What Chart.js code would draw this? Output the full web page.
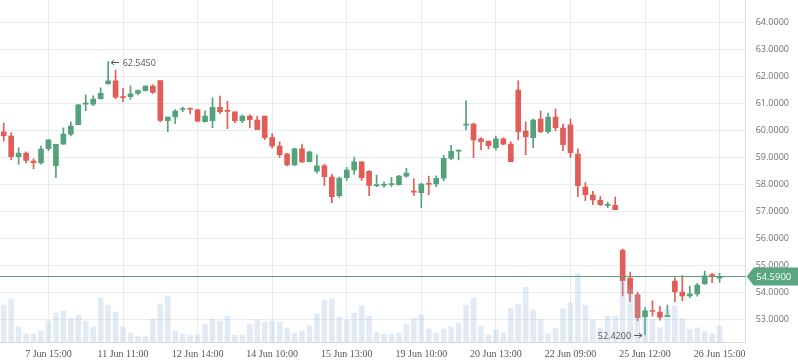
<!DOCTYPE html>
<html>
<head>
<meta charset="utf-8">
<script src="https://cdn.jsdelivr.net/npm/chart.js@4/dist/chart.umd.min.js"></script>
<style>
  html, body { margin: 0; padding: 0; background: #fff; }
  #wrap { width: 798px; height: 363px; }
</style>
</head>
<body>
<div id="wrap"><canvas id="chart_root"></canvas></div>
<script>
// price data (hourly candles)
const opens = [59.94, 59.79, 59.02, 59.16, 58.86, 58.79, 59.32, 58.69, 59.49, 59.86,
  60.21, 60.97, 60.97, 61.17, 61.72, 61.83, 61.22, 61.25, 61.37, 61.47,
  61.64, 61.84, 60.36, 60.50, 60.77, 60.80, 60.76, 60.32, 60.36, 60.85,
  60.71, 60.68, 60.36, 60.53, 60.38, 60.53, 59.73, 59.42, 59.12, 58.72,
  59.31, 58.84, 58.49, 58.68, 58.27, 57.58, 58.25, 58.53, 58.83, 58.48,
  57.95, 57.96, 57.99, 57.99, 58.30, 57.73, 57.69, 58.02, 58.01, 58.23,
  58.96, 59.23, 60.19, 60.23, 59.68, 59.60, 59.36, 59.68, 59.49, 61.49,
  59.97, 59.73, 60.42, 59.95, 60.49, 60.08, 60.20, 59.12, 57.90, 57.60,
  57.41, 57.22, 57.22, 55.55, 54.53, 53.92, 53.10, 53.31, 53.27, 53.10,
  54.42, 54.01, 53.87, 53.94, 54.31, 54.66, 54.52];
const highs = [60.27, 59.92, 59.35, 59.20, 58.94, 59.42, 59.67, 59.49, 60.09, 60.31,
  60.96, 61.31, 61.28, 61.57, 62.545, 62.23, 61.55, 61.65, 61.50, 61.65,
  61.68, 61.84, 60.49, 60.77, 60.86, 60.83, 60.79, 60.72, 61.20, 61.27,
  61.07, 60.68, 60.57, 60.57, 60.52, 60.53, 59.88, 59.57, 59.15, 59.34,
  59.49, 59.23, 59.09, 58.74, 58.37, 58.27, 58.62, 59.01, 58.83, 58.51,
  58.34, 58.09, 58.26, 58.33, 58.59, 58.20, 58.04, 58.30, 58.31, 59.07,
  59.44, 59.27, 61.09, 60.27, 59.73, 59.60, 59.79, 59.72, 59.57, 61.83,
  60.31, 60.42, 60.72, 60.64, 60.79, 60.23, 60.42, 59.31, 58.07, 57.74,
  57.55, 57.34, 57.53, 55.60, 54.75, 54.01, 53.43, 53.68, 53.48, 53.53,
  54.54, 54.62, 54.23, 54.33, 54.79, 54.70, 54.70];
const lows = [59.60, 58.90, 58.74, 58.79, 58.58, 58.75, 59.25, 58.25, 59.48, 59.79,
  60.21, 60.73, 60.91, 61.15, 61.72, 61.17, 61.05, 61.14, 61.31, 61.46,
  61.37, 60.32, 59.95, 60.25, 60.69, 60.62, 60.32, 60.30, 60.10, 60.62,
  60.06, 60.28, 60.28, 60.10, 60.02, 59.65, 59.34, 59.00, 58.68, 58.69,
  58.80, 58.84, 58.41, 57.95, 57.32, 57.51, 58.14, 58.37, 58.14, 57.58,
  57.91, 57.88, 57.91, 57.97, 58.26, 57.59, 57.13, 57.62, 57.91, 58.13,
  58.91, 58.90, 60.01, 58.99, 59.27, 59.31, 59.27, 59.47, 58.84, 59.64,
  59.09, 59.36, 59.91, 59.88, 59.99, 59.25, 58.99, 57.54, 57.39, 57.25,
  57.21, 57.13, 57.06, 53.87, 53.65, 52.95, 52.42, 53.12, 52.97, 53.10,
  53.65, 53.69, 53.80, 53.86, 54.30, 54.36, 54.37];
const closes = [59.80, 59.02, 59.16, 58.88, 58.80, 59.30, 59.64, 59.48, 59.86, 60.16,
  60.94, 60.99, 61.16, 61.37, 61.83, 61.23, 61.21, 61.35, 61.47, 61.64,
  61.40, 60.37, 60.49, 60.71, 60.78, 60.78, 60.34, 60.53, 60.85, 60.69,
  60.70, 60.36, 60.53, 60.39, 60.02, 59.73, 59.42, 59.10, 58.72, 59.31,
  58.83, 59.20, 58.68, 58.28, 57.54, 58.23, 58.53, 58.83, 58.25, 57.96,
  57.97, 57.98, 58.01, 58.30, 58.42, 57.71, 58.01, 58.00, 58.22, 58.96,
  59.22, 59.25, 60.21, 59.64, 59.58, 59.43, 59.68, 59.49, 58.84, 59.95,
  59.76, 60.38, 59.95, 60.49, 60.10, 59.47, 59.17, 57.95, 57.62, 57.42,
  57.25, 57.24, 57.06, 54.43, 53.95, 53.06, 53.31, 53.29, 53.08, 53.15,
  54.01, 53.87, 53.94, 54.27, 54.61, 54.59, 54.59];
const volumes = [373, 433, 153, 83, 83, 113, 213, 293, 313, 243,
  273, 213, 153, 443, 373, 303, 153, 93, 63, 63,
  233, 383, 463, 113, 83, 73, 73, 183, 233, 213,
  263, 73, 73, 183, 223, 203, 213, 203, 143, 93,
  113, 163, 283, 423, 433, 253, 223, 293, 363, 263,
  103, 83, 83, 93, 183, 243, 273, 133, 93, 133,
  153, 193, 373, 443, 163, 73, 123, 93, 343, 383,
  553, 323, 233, 83, 143, 333, 393, 683, 373, 223,
  143, 263, 263, 620, 530, 480, 250, 230, 145, 330,
  363, 235, 133, 145, 105, 85, 163];

// x axis: 100 slots, the last ones empty
const slotCount = 100;
const tickSlots = [6, 16, 26, 36, 46, 56, 66, 76, 86, 96];
const tickLabels = ['7 Jun 15:00', '11 Jun 11:00', '12 Jun 14:00', '14 Jun 10:00', '15 Jun 13:00',
  '19 Jun 10:00', '20 Jun 13:00', '22 Jun 09:00', '25 Jun 12:00', '26 Jun 15:00'];

const UP = '#53a27c';
const DOWN = '#e15d57';
const colors = closes.map((c, i) => (c >= opens[i] ? UP : DOWN));

// last price line, tag and high / low marks
const overlay = {
  id: 'overlay',
  afterDatasetsDraw(chart) {
    const { ctx, chartArea, scales: { x, y } } = chart;
    const last = closes[closes.length - 1];
    const py = Math.round(y.getPixelForValue(last)) + 0.5;
    ctx.save();
    ctx.strokeStyle = '#5a9f7c';
    ctx.lineWidth = 1;
    ctx.beginPath();
    ctx.moveTo(chartArea.left, py);
    ctx.lineTo(chartArea.right, py);
    ctx.stroke();

    // price tag
    const tx = chartArea.right + 1;
    ctx.fillStyle = '#5aa680';
    ctx.beginPath();
    ctx.moveTo(tx, py);
    ctx.lineTo(tx + 7, py - 9);
    ctx.lineTo(chart.width, py - 9);
    ctx.lineTo(chart.width, py + 9);
    ctx.lineTo(tx + 7, py + 9);
    ctx.closePath();
    ctx.fill();
    ctx.fillStyle = '#fff';
    ctx.font = '9.5px "Open Sans"';
    ctx.textAlign = 'left';
    ctx.textBaseline = 'middle';
    ctx.fillText(last.toFixed(4), tx + 9.5, py + 0.5);

    // highest high / lowest low
    const hi = highs.indexOf(Math.max(...highs));
    const lo = lows.indexOf(Math.min(...lows));
    ctx.font = '9px "Open Sans"';
    ctx.strokeStyle = '#555';
    ctx.fillStyle = '#555';
    const hx = x.getPixelForValue(hi);
    const hy = Math.round(y.getPixelForValue(highs[hi])) + 0.5;
    ctx.beginPath();
    ctx.moveTo(hx + 3, hy);
    ctx.lineTo(hx + 11, hy);
    ctx.moveTo(hx + 6, hy - 2.5);
    ctx.lineTo(hx + 3, hy);
    ctx.lineTo(hx + 6, hy + 2.5);
    ctx.stroke();
    ctx.fillText(highs[hi].toFixed(4), hx + 14.5, hy + 1);

    const lx = x.getPixelForValue(lo);
    const ly = Math.round(y.getPixelForValue(lows[lo])) + 0.5;
    ctx.beginPath();
    ctx.moveTo(lx - 11, ly);
    ctx.lineTo(lx - 3, ly);
    ctx.moveTo(lx - 6, ly - 2.5);
    ctx.lineTo(lx - 3, ly);
    ctx.lineTo(lx - 6, ly + 2.5);
    ctx.stroke();
    ctx.textAlign = 'right';
    ctx.fillText(lows[lo].toFixed(4), lx - 14, ly + 1);
    ctx.restore();
  }
};

const ctx = document.getElementById('chart_root');

new Chart(ctx, {
  type: 'bar',
  data: {
    labels: Array.from({ length: slotCount }, (_, i) => i),
    datasets: [
      {
        label: 'Volume',
        data: volumes,
        yAxisID: 'yv',
        backgroundColor: 'rgba(150,182,214,0.28)',
        barThickness: 5,
        grouped: false,
        order: 0
      },
      {
        label: 'Body',
        data: opens.map((o, i) => [o, closes[i]]),
        yAxisID: 'y',
        backgroundColor: colors,
        barThickness: 5,
        minBarLength: 1,
        grouped: false,
        order: 1
      },
      {
        label: 'Wick',
        data: lows.map((l, i) => [l, highs[i]]),
        yAxisID: 'y',
        backgroundColor: colors,
        barThickness: 1,
        grouped: false,
        order: 2
      }
    ]
  },
  options: {
    responsive: true,
    maintainAspectRatio: false,
    animation: false,
    layout: { padding: 0 },
    plugins: {
      legend: { display: false },
      tooltip: { enabled: false }
    },
    scales: {
      x: {
        type: 'category',
        offset: true,
        grid: { offset: false, color: '#e8ecf0', drawTicks: false },
        border: { color: '#d9dde2' },
        ticks: {
          autoSkip: false,
          maxRotation: 0,
          padding: 6,
          color: '#555',
          font: { family: '"Liberation Serif"', size: 10 },
          callback: (value) => tickLabels[tickSlots.indexOf(value)]
        },
        afterBuildTicks: (scale) => {
          scale.ticks = scale.ticks.filter((t) => tickSlots.includes(t.value));
        },
        afterFit: (scale) => {
          scale.height = 20.7;
          scale.paddingLeft = 0;
          scale.paddingRight = 0;
        }
      },
      y: {
        position: 'right',
        min: 52.148,
        max: 64.826,
        grid: { color: '#e8ecf0', drawTicks: false },
        border: { color: '#d9dde2' },
        ticks: {
          stepSize: 1,
          includeBounds: false,
          padding: 10,
          color: '#707070',
          font: { family: '"Open Sans"', size: 9 },
          callback: (v) => v.toFixed(4)
        },
        afterFit: (scale) => {
          scale.width = 52.3;
          scale.paddingTop = 0;
          scale.paddingBottom = 0;
        }
      },
      yv: {
        display: false,
        min: 0,
        max: 3423
      }
    }
  },
  plugins: [overlay]
});
</script>
</body>
</html>
